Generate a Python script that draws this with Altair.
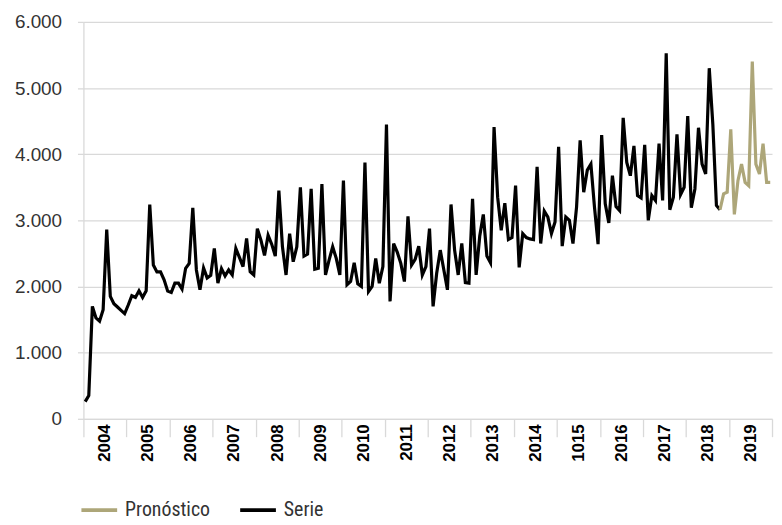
import altair as alt
import pandas as pd

# Monthly series (Jan 2004 ... Oct 2018)
serie = [
    260, 350, 1700, 1525, 1475, 1650, 2860, 1850, 1740, 1690, 1640, 1590,   # 2004
    1720, 1860, 1835, 1935, 1835, 1935, 3240, 2325, 2220, 2220, 2100, 1930, # 2005
    1910, 2050, 2050, 1960, 2275, 2350, 3190, 2250, 1950, 2280, 2130, 2170, # 2006
    2575, 2050, 2270, 2160, 2250, 2175, 2575, 2440, 2300, 2725, 2225, 2175, # 2007
    2875, 2700, 2470, 2775, 2640, 2460, 3450, 2600, 2175, 2800, 2375, 2600, # 2008
    3500, 2460, 2490, 3475, 2260, 2275, 3550, 2175, 2400, 2600, 2425, 2175, # 2009
    3600, 2025, 2075, 2360, 2040, 2000, 3875, 1925, 2000, 2425, 2050, 2300, # 2010
    4450, 1775, 2650, 2520, 2350, 2075, 3060, 2325, 2410, 2610, 2175, 2300, # 2011
    2875, 1700, 2200, 2550, 2250, 1950, 3240, 2550, 2175, 2650, 2060, 2050, # 2012
    3325, 2175, 2760, 3090, 2460, 2360, 4410, 3350, 2850, 3260, 2710, 2740, # 2013
    3525, 2290, 2800, 2740, 2720, 2710, 3810, 2650, 3140, 3050, 2800, 2975, # 2014
    4110, 2610, 3050, 3000, 2650, 3200, 4210, 3425, 3760, 3850, 3200, 2640, # 2015
    4290, 3250, 2960, 3675, 3210, 3150, 4550, 3875, 3675, 4125, 3375, 3340, # 2016
    4140, 3000, 3375, 3300, 4160, 3300, 5525, 3160, 3350, 4300, 3390, 3500, # 2017
    4575, 3190, 3475, 4400, 3850, 3700, 5300, 4450, 3225, 3160,             # 2018
]

# Forecast (starts at the last observed month, Oct 2018 ... Dec 2019)
pronostico = [3160, 3400, 3425, 4375, 3090, 3600, 3850, 3575, 3525, 5400,
              3850, 3700, 4160, 3575, 3575]

years = ["2004", "2005", "2006", "2007", "2008", "2009", "2010", "2011",
         "2012", "2013", "2014", "1015", "2016", "2017", "2018", "2019"]
y_ticks = [0, 1000, 2000, 3000, 4000, 5000, 6000]
series_names = ["Pronóstico", "Serie"]
series_colors = ["#ADA679", "#000000"]

forecast_start = len(serie) - 1
rows = []
for i, v in enumerate(serie):
    rows.append({"mes": i + 0.5, "valor": v, "serie": "Serie"})
for j, v in enumerate(pronostico):
    rows.append({"mes": forecast_start + j + 0.5, "valor": v, "serie": "Pronóstico"})
df = pd.DataFrame(rows)

n_months = 12 * len(years)
x_values = list(range(0, n_months + 1, 6))
year_array = "[" + ",".join("'" + y + "'" for y in years) + "]"
x_label_expr = f"datum.value % 12 == 6 ? {year_array}[floor(datum.value / 12)] : ''"

grid_color = "#d9d9d9"

chart = alt.Chart(df).mark_line(strokeWidth=3.2, strokeJoin="miter").encode(
    x=alt.X(
        "mes:Q",
        scale=alt.Scale(domain=[0, n_months], nice=False, zero=False),
        axis=alt.Axis(
            title=None,
            values=x_values,
            labelExpr=x_label_expr,
            labelAngle=270,
            labelAlign="right",
            labelBaseline="middle",
            labelPadding=-13,
            labelFont="Liberation Sans",
            labelFontWeight="bold",
            labelFontSize=17,
            labelColor="#000000",
            labelOverlap=False,
            labelFlush=False,
            labelBound=False,
            tickSize=18,
            tickColor=grid_color,
            tickWidth=1.3,
            tickOpacity={"condition": {"test": "datum.value % 12 == 0", "value": 1}, "value": 0},
            domainColor=grid_color,
            domainWidth=1.3,
            grid=False,
        ),
    ),
    y=alt.Y(
        "valor:Q",
        scale=alt.Scale(domain=[0, 6000], nice=False),
        axis=alt.Axis(
            title=None,
            values=y_ticks,
            labelExpr="replace(format(datum.value, ','), ',', '.')",
            labelFont="Liberation Sans",
            labelFontSize=19,
            labelColor="#333333",
            labelPadding=16,
            tickSize=6,
            tickColor=grid_color,
            tickWidth=1.3,
            domainColor=grid_color,
            domainWidth=1.3,
            gridColor=grid_color,
            gridWidth=1.3,
        ),
    ),
    color=alt.Color(
        "serie:N",
        scale=alt.Scale(domain=series_names, range=series_colors),
        legend=alt.Legend(
            title=None,
            orient="none",
            legendX=-4,
            legendY=472,
            direction="horizontal",
            symbolType="stroke",
            symbolSize=1296,
            symbolStrokeWidth=3.8,
            labelFont="Liberation Sans Narrow, Roboto Condensed, Roboto, sans-serif",
            labelFontSize=20,
            labelColor="#333333",
            labelOffset=6,
            columnPadding=22,
        ),
    ),
    detail="serie:N",
    order="mes:Q",
).properties(
    width=694,
    height=400,
    autosize=alt.AutoSizeParams(type="none"),
    padding={"left": 76, "top": 12, "right": 2, "bottom": 103},
).configure_view(stroke=None)

chart.save("out.html", embed_options={"renderer": "svg", "actions": False})
